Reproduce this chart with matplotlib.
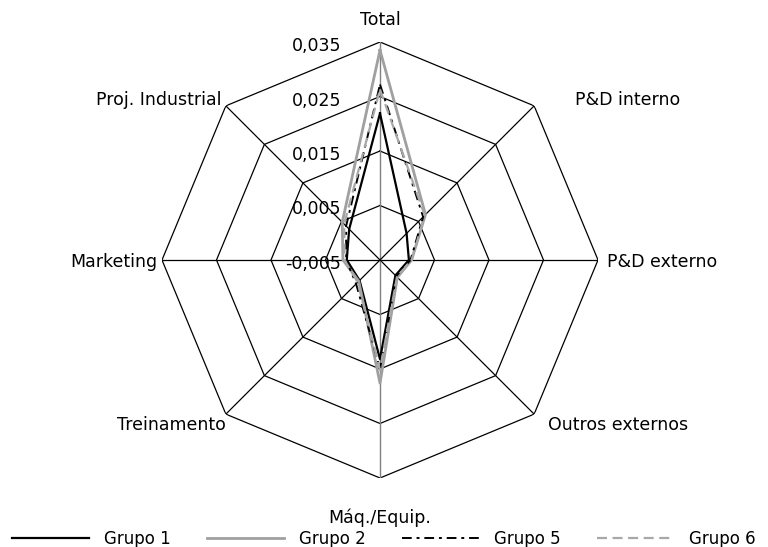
import numpy as np
import matplotlib
matplotlib.use("Agg")
import matplotlib.pyplot as plt
from matplotlib.transforms import offset_copy

categories = ["Total", "P&D interno", "P&D externo", "Outros externos",
              "Máq./Equip.", "Treinamento", "Marketing", "Proj. Industrial"]
grupo1 = [0.0219, 0.0019, 0.0003, -0.0010, 0.0132, 0.0003, 0.0011, 0.0030]
grupo2 = [0.0335, 0.0068, 0.0008, -0.0005, 0.0176, 0.0005, 0.0018, 0.0048]
grupo5 = [0.0272, 0.0062, 0.0006, -0.0008, 0.0150, 0.0012, 0.0012, 0.0038]
grupo6 = [0.0263, 0.0066, 0.0008, -0.0006, 0.0152, 0.0008, 0.0015, 0.0043]
rticks = [-0.005, 0.005, 0.015, 0.025, 0.035]
rtick_labels = ["-0,005", "0,005", "0,015", "0,025", "0,035"]

plt.rcParams['font.family'] = ['DejaVu Sans']
fig = plt.figure(figsize=(7.68, 5.47), dpi=100)
# centre at (380, 260) px, radius 218 px
cx, cy, rad = 380 / 768, 1 - 260 / 547, 218
ax = fig.add_axes([cx - rad / 768, cy - rad / 547, 2 * rad / 768, 2 * rad / 547],
                  projection="polar")
ax.set_theta_offset(np.pi / 2)
ax.set_theta_direction(-1)
ax.set_ylim(rticks[0], rticks[-1])
ax.grid(False)
ax.spines["polar"].set_visible(False)
ax.set_xticks([])
ax.set_yticks([])
ax.patch.set_visible(False)

n = len(categories)
angles = np.arange(n) * 2 * np.pi / n
closed = np.append(angles, angles[0])

# octagon rings and spokes
for r in rticks[1:]:
    ax.plot(closed, [r] * (n + 1), color="black", lw=0.9, zorder=1)
for i, a in enumerate(angles):
    col = "#808080" if i in (0, 4) else "black"
    ax.plot([a, a], [rticks[0], rticks[-1]], color=col, lw=1.0 if i in (0, 4) else 0.9, zorder=1)

styles = [
    (grupo1, "Grupo 1", dict(color="black", lw=1.6, ls="-")),
    (grupo2, "Grupo 2", dict(color="#a0a0a0", lw=2.0, ls="-")),
    (grupo5, "Grupo 5", dict(color="black", lw=1.4, ls=(0, (5, 2.5, 1.5, 2.5)))),
    (grupo6, "Grupo 6", dict(color="#a8a8a8", lw=1.6, ls=(0, (4.5, 2.5)))),
]
for vals, lab, st in styles:
    ax.plot(closed, vals + vals[:1], label=lab, zorder=3, **st)

# radial tick labels
for r, t in zip(rticks, rtick_labels):
    tr = offset_copy(ax.transData, fig=fig, x=-39, y=-4, units="dots")
    ax.text(0, r, t, transform=tr, ha="right", va="center", fontsize=12.5, zorder=5)

# category labels
offs = [(0, 22, "center"), (41, 6, "left"), (9, -2, "left"), (14, -11, "left"),
        (0, -40, "center"), (0, -11, "right"), (-5, -2, "right"), (-4, 6, "right")]
for a, lab, (dx, dy, ha) in zip(angles, categories, offs):
    tr = offset_copy(ax.transData, fig=fig, x=dx, y=dy, units="dots")
    ax.text(a, rticks[-1], lab, transform=tr, ha=ha, va="center", fontsize=12.5)

fig.legend(loc="center", bbox_to_anchor=(0.5, 1 - 539 / 547), ncol=4, frameon=False,
           fontsize=12, handlelength=4.6, handletextpad=0.9, columnspacing=2.2,
           borderpad=0.1)

fig.savefig("out.png", dpi=100)
